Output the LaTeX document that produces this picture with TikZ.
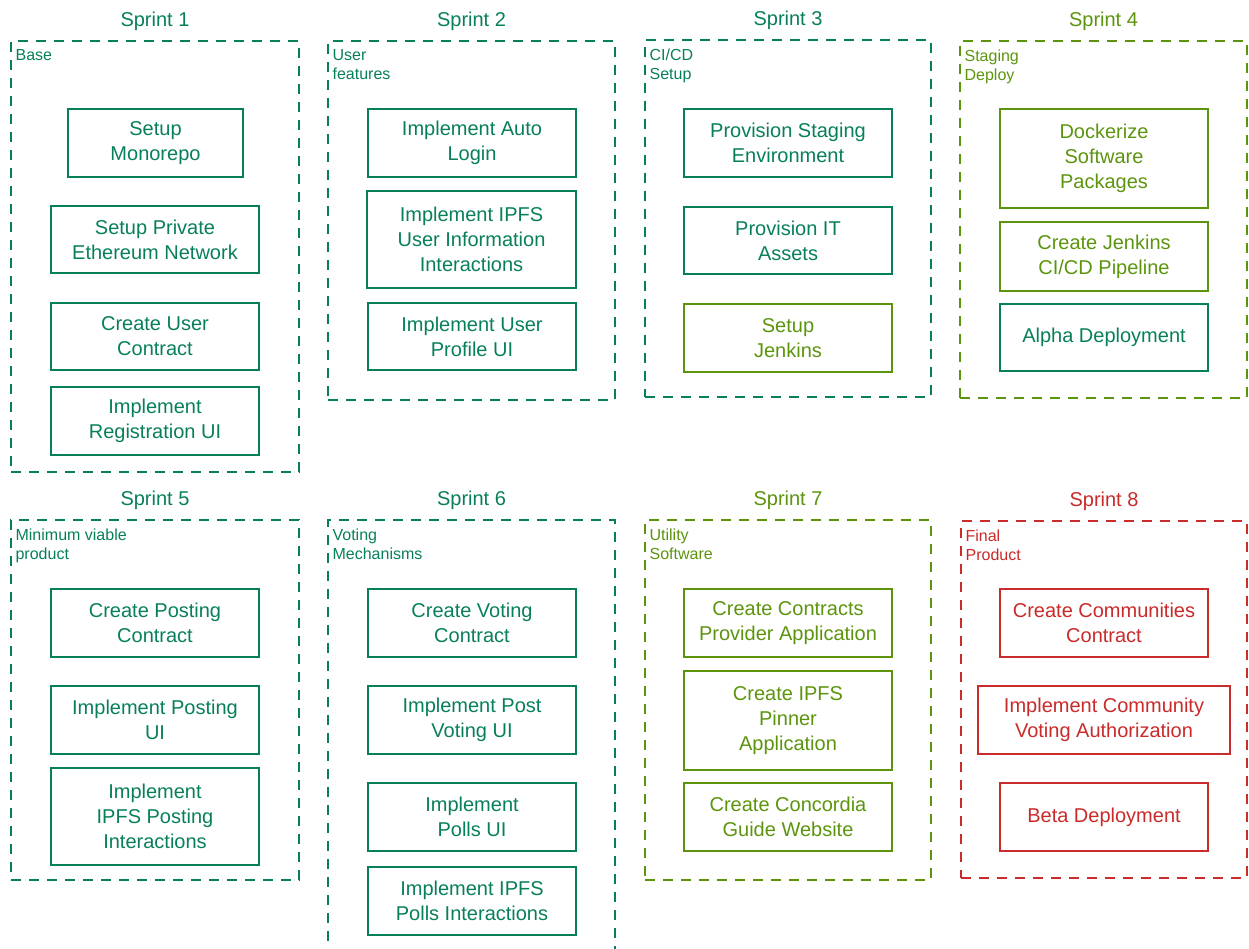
\documentclass[tikz,border=0pt]{standalone}
\usepackage{fontspec}
\setmainfont{Liberation Sans}
\usetikzlibrary{positioning}
\definecolor{tealnine}{HTML}{087F5B}
\definecolor{limenine}{HTML}{5C940D}
\definecolor{rednine}{HTML}{C92A2A}
\begin{document}
\begin{tikzpicture}[x=1pt,y=-1pt,
    frame/.style={draw,dash pattern=on 10pt off 8pt,line width=1.2pt,inner sep=0pt},
    task/.style={draw,line width=1.3pt,align=center,inner sep=0pt,font=\fontsize{20}{25}\selectfont},
    title/.style={anchor=base,font=\fontsize{20}{25}\selectfont},
    tag/.style={anchor=north west,align=left,inner sep=0pt,font=\fontsize{16}{19}\selectfont}]
                \useasboundingbox (0,0) rectangle (1249,949);
                % sprint frames
                \node[frame,tealnine,minimum width=288,minimum height=431] (f1) at (155,256.5) {};
                \node[frame,tealnine,minimum width=287,minimum height=359] (f2) at (471.5,220.5) {};
                \node[frame,tealnine,minimum width=286,minimum height=357] (f3) at (788,218.5) {};
                \node[frame,limenine,minimum width=287,minimum height=357] (f4) at (1103.5,219.5) {};
                \node[frame,tealnine,minimum width=288,minimum height=360] (f5) at (155,700) {};
                \node[frame,tealnine,minimum width=287,minimum height=455] (f6) at (471.5,747.5) {};
                \node[frame,limenine,minimum width=286,minimum height=360] (f7) at (788,700) {};
                \node[frame,rednine,minimum width=286,minimum height=357] (f8) at (1104,699.5) {};
                % titles
                \node[title,tealnine] (t1) at ([yshift=14pt]f1.north) {Sprint 1};
                \node[title,tealnine] (t2) at ([yshift=14pt]f2.north) {Sprint 2};
                \node[title,tealnine] (t3) at ([yshift=14pt]f3.north) {Sprint 3};
                \node[title,limenine] (t4) at ([yshift=14pt]f4.north) {Sprint 4};
                \node[title,tealnine] (t5) at ([yshift=14pt]f5.north) {Sprint 5};
                \node[title,tealnine] (t6) at ([yshift=14pt]f6.north) {Sprint 6};
                \node[title,limenine] (t7) at ([yshift=14pt]f7.north) {Sprint 7};
                \node[title,rednine] (t8) at ([yshift=14pt]f8.north) {Sprint 8};
                % frame labels
                \node[tag,tealnine] (l1) at ([shift={(5pt,-9pt)}]f1.north west) {Base};
                \node[tag,tealnine] (l2) at ([shift={(5pt,-9pt)}]f2.north west) {User\\features};
                \node[tag,tealnine] (l3) at ([shift={(5pt,-9pt)}]f3.north west) {CI/CD\\Setup};
                \node[tag,limenine] (l4) at ([shift={(5pt,-9pt)}]f4.north west) {Staging\\Deploy};
                \node[tag,tealnine] (l5) at ([shift={(5pt,-9pt)}]f5.north west) {Minimum viable\\product};
                \node[tag,tealnine] (l6) at ([shift={(5pt,-9pt)}]f6.north west) {Voting\\Mechanisms};
                \node[tag,limenine] (l7) at ([shift={(5pt,-9pt)}]f7.north west) {Utility\\Software};
                \node[tag,rednine] (l8) at ([shift={(5pt,-9pt)}]f8.north west) {Final\\Product};
                % sprint 1
                \node[task,tealnine,minimum width=175,minimum height=68] (a1) at (155.5,143) {Setup\\Monorepo};
                \node[task,tealnine,minimum width=208,minimum height=67] (a2) at (155,239.5) {Setup Private\\Ethereum Network};
                \node[task,tealnine,minimum width=208,minimum height=67] (a3) at (155,336.5) {Create User\\Contract};
                \node[task,tealnine,minimum width=208,minimum height=68] (a4) at (155,421) {Implement\\Registration UI};
                % sprint 2
                \node[task,tealnine,minimum width=208,minimum height=68] (b1) at (472,143) {Implement Auto\\Login};
                \node[task,tealnine,minimum width=209,minimum height=97] (b2) at (471.5,239.5) {Implement IPFS\\User Information\\Interactions};
                \node[task,tealnine,minimum width=208,minimum height=67] (b3) at (472,336.5) {Implement User\\Profile UI};
                % sprint 3
                \node[task,tealnine,minimum width=208,minimum height=68] (c1) at (788,143) {Provision Staging\\Environment};
                \node[task,tealnine,minimum width=208,minimum height=67] (c2) at (788,240.5) {Provision IT\\Assets};
                \node[task,limenine,minimum width=208,minimum height=68] (c3) at (788,338) {Setup\\Jenkins};
                % sprint 4
                \node[task,limenine,minimum width=208,minimum height=99] (d1) at (1104,158.5) {Dockerize\\Software\\Packages};
                \node[task,limenine,minimum width=208,minimum height=69] (d2) at (1104,256.5) {Create Jenkins\\CI/CD Pipeline};
                \node[task,tealnine,minimum width=208,minimum height=67] (d3) at (1104,337.5) {Alpha Deployment};
                % sprint 5
                \node[task,tealnine,minimum width=208,minimum height=68] (e1) at (155,623) {Create Posting\\Contract};
                \node[task,tealnine,minimum width=208,minimum height=68] (e2) at (155,720) {Implement Posting\\UI};
                \node[task,tealnine,minimum width=208,minimum height=97] (e3) at (155,816.5) {Implement\\IPFS Posting\\Interactions};
                % sprint 6
                \node[task,tealnine,minimum width=208,minimum height=68] (g1) at (472,623) {Create Voting\\Contract};
                \node[task,tealnine,minimum width=208,minimum height=68] (g2) at (472,720) {Implement Post\\Voting UI};
                \node[task,tealnine,minimum width=208,minimum height=68] (g3) at (472,817) {Implement\\Polls UI};
                \node[task,tealnine,minimum width=208,minimum height=68] (g4) at (472,901) {Implement IPFS\\Polls Interactions};
                % sprint 7
                \node[task,limenine,minimum width=208,minimum height=68] (h1) at (788,623) {Create Contracts\\Provider Application};
                \node[task,limenine,minimum width=208,minimum height=99] (h2) at (788,720.5) {Create IPFS\\Pinner\\Application};
                \node[task,limenine,minimum width=208,minimum height=68] (h3) at (788,817) {Create Concordia\\Guide Website};
                % sprint 8
                \node[task,rednine,minimum width=208,minimum height=68] (k1) at (1104,623) {Create Communities\\Contract};
                \node[task,rednine,minimum width=252,minimum height=68] (k2) at (1104,720) {Implement Community\\Voting Authorization};
                \node[task,rednine,minimum width=208,minimum height=68] (k3) at (1104,817) {Beta Deployment};
\end{tikzpicture}
\end{document}
